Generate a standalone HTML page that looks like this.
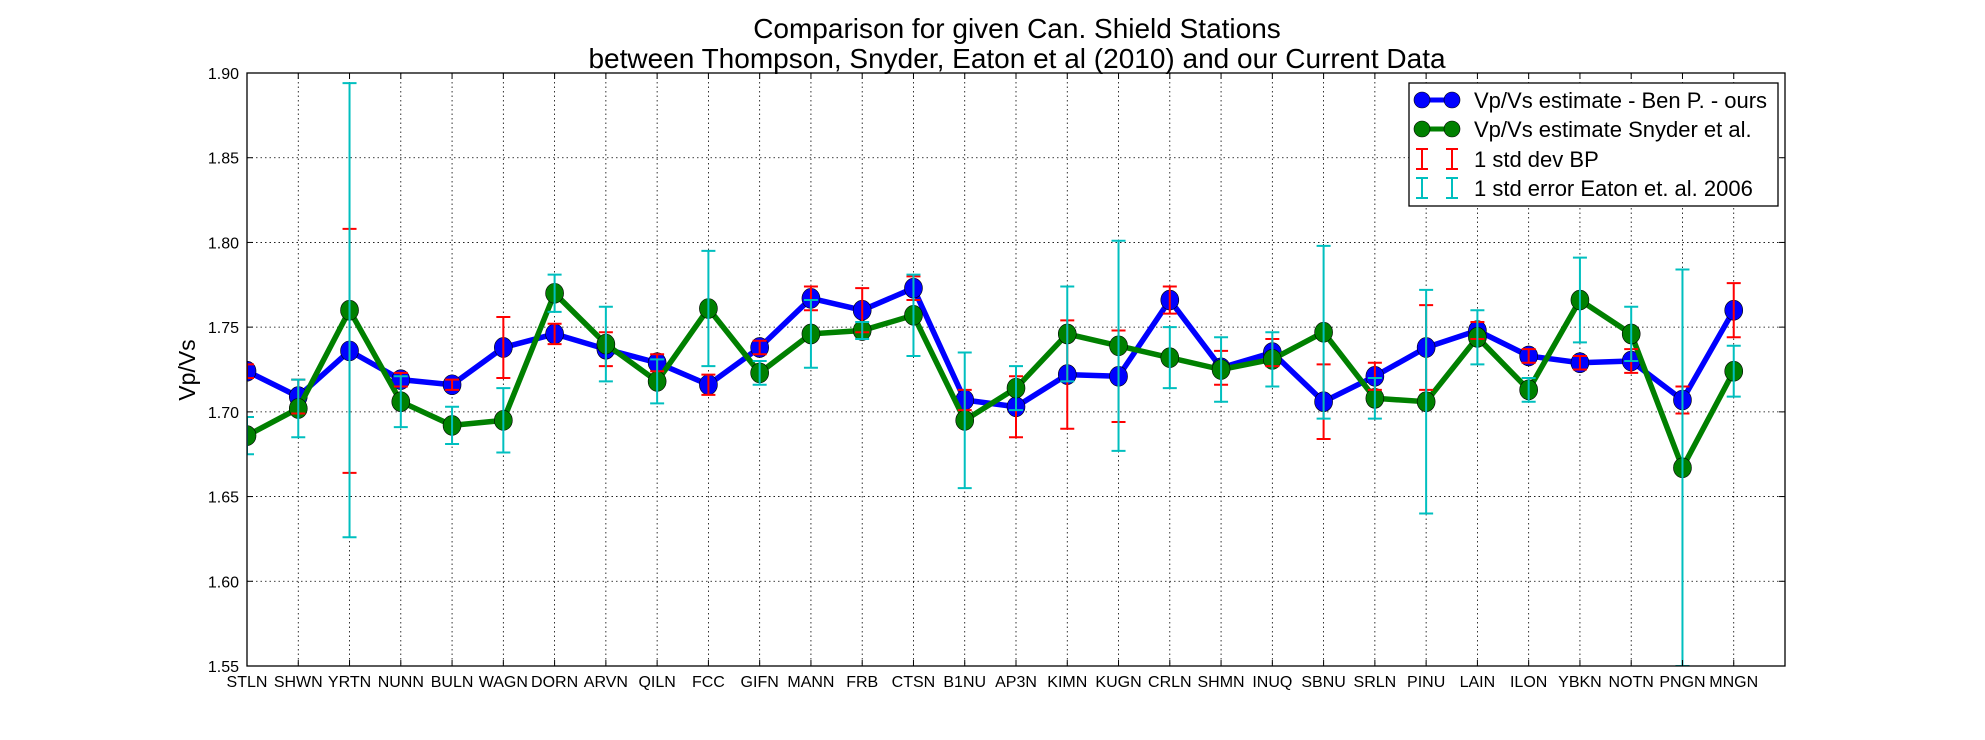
<!DOCTYPE html>
<html><head><meta charset="utf-8"><style>
body{margin:0;background:#fff;}
svg{display:block;font-family:"Liberation Sans","DejaVu Sans",sans-serif;}
</style></head><body>
<svg id="chart" width="1985" height="740" viewBox="0 0 1985 740" xmlns="http://www.w3.org/2000/svg">
<rect width="1985" height="740" fill="#fff"/>
<text x="1017" y="38" font-size="28" text-anchor="middle">Comparison for given Can. Shield Stations</text>
<text x="1017" y="68" font-size="28" text-anchor="middle">between Thompson, Snyder, Eaton et al (2010) and our Current Data</text>
<text transform="translate(195,370) rotate(-90)" font-size="23" text-anchor="middle">Vp/Vs</text>
<defs><clipPath id="plotclip"><rect x="247" y="73" width="1538" height="593"/></clipPath></defs>
<g id="grid"></g>
<g id="marks" clip-path="url(#plotclip)"></g>
<rect x="247" y="73" width="1538" height="593" fill="none" stroke="#000" stroke-width="1.3"/>
<g id="ticks"></g>
<g>
<rect x="1409" y="83" width="369" height="123" fill="#fff" stroke="#000" stroke-width="1.3"/>
<g>
<line x1="1422" y1="100" x2="1452" y2="100" stroke="#0000ff" stroke-width="5"/>
<circle cx="1422" cy="100" r="8" fill="#0000ff" stroke="#000" stroke-width="0.6"/><circle cx="1452" cy="100" r="8" fill="#0000ff" stroke="#000" stroke-width="0.6"/>
<text x="1474" y="108" font-size="22">Vp/Vs estimate - Ben P. - ours</text></g>
<g>
<line x1="1422" y1="129" x2="1452" y2="129" stroke="#008000" stroke-width="5"/>
<circle cx="1422" cy="129" r="8" fill="#008000" stroke="#000" stroke-width="0.6"/><circle cx="1452" cy="129" r="8" fill="#008000" stroke="#000" stroke-width="0.6"/>
<text x="1474" y="137" font-size="22">Vp/Vs estimate Snyder et al.</text></g>
<g stroke="#ff0000" stroke-width="2">
<path d="M1422 149V169M1416 149H1428M1416 169H1428M1452 149V169M1446 149H1458M1446 169H1458" fill="none"/>
<text x="1474" y="167" font-size="22" fill="#000" stroke="none">1 std dev BP</text></g>
<g stroke="#00bfbf" stroke-width="2">
<path d="M1422 178V198M1416 178H1428M1416 198H1428M1452 178V198M1446 178H1458M1446 198H1458" fill="none"/>
<text x="1474" y="196" font-size="22" fill="#000" stroke="none">1 std error Eaton et. al. 2006</text></g>
</g>
</svg>
<script>
const stations = ["STLN","SHWN","YRTN","NUNN","BULN","WAGN","DORN","ARVN","QILN","FCC","GIFN","MANN","FRB","CTSN","B1NU","AP3N","KIMN","KUGN","CRLN","SHMN","INUQ","SBNU","SRLN","PINU","LAIN","ILON","YBKN","NOTN","PNGN","MNGN"];
const oursValues = [1.724,1.709,1.736,1.719,1.716,1.738,1.746,1.737,1.729,1.716,1.738,1.767,1.760,1.773,1.707,1.703,1.722,1.721,1.766,1.726,1.735,1.706,1.721,1.738,1.748,1.733,1.729,1.730,1.707,1.760];
const oursStd = [0.004,0.010,0.072,0.004,0.003,0.018,0.006,0.010,0.005,0.006,0.004,0.007,0.013,0.007,0.006,0.018,0.032,0.027,0.008,0.010,0.008,0.022,0.008,0.025,0.005,0.004,0.004,0.007,0.008,0.016];
const snyderValues = [1.686,1.702,1.760,1.706,1.692,1.695,1.770,1.740,1.718,1.761,1.723,1.746,1.748,1.757,1.695,1.714,1.746,1.739,1.732,1.725,1.731,1.747,1.708,1.706,1.744,1.713,1.766,1.746,1.667,1.724];
const eatonErr = [0.011,0.017,0.134,0.015,0.011,0.019,0.011,0.022,0.013,0.034,0.007,0.020,0.005,0.024,0.040,0.013,0.028,0.062,0.018,0.019,0.016,0.051,0.012,0.066,0.016,0.007,0.025,0.016,0.117,0.015];
const yTicks = [1.55,1.60,1.65,1.70,1.75,1.80,1.85,1.90];

const L=247,R=1785,T=73,B=666,NS="http://www.w3.org/2000/svg";
const xs=i=>L+(R-L)*i/30;
const ys=v=>B-(B-T)*(v-1.55)/0.35;
function mk(tag,attrs,parent){const e=document.createElementNS(NS,tag);for(const k in attrs)e.setAttribute(k,attrs[k]);parent.appendChild(e);return e;}
const grid=document.getElementById('grid'),marks=document.getElementById('marks'),ticks=document.getElementById('ticks');
yTicks.forEach(v=>{
  const y=ys(v);
  if(v>1.55&&v<1.90){const g=mk('line',{x1:L,x2:R,y1:y,y2:y,stroke:'#000','stroke-width':0.8,'stroke-dasharray':'1.5,3'},grid);
  
  }
  mk('line',{x1:L,x2:L+6,y1:y,y2:y,stroke:'#000'},ticks);
  mk('line',{x1:R-6,x2:R,y1:y,y2:y,stroke:'#000'},ticks);
  const t=mk('text',{x:L-8,y:y+6,'font-size':16,'text-anchor':'end'},ticks);t.textContent=v.toFixed(2);
  
  
});
stations.forEach((s,i)=>{
  const x=xs(i);
  const g=mk('line',{x1:x,x2:x,y1:T,y2:B,stroke:'#000','stroke-width':0.8,'stroke-dasharray':'1.5,3'},grid);
  
  
  mk('line',{x1:x,x2:x,y1:B,y2:B-6,stroke:'#000'},ticks);
  mk('line',{x1:x,x2:x,y1:T,y2:T+6,stroke:'#000'},ticks);
  const t=mk('text',{x:x,y:B+21,'font-size':16,'text-anchor':'middle'},ticks);t.textContent=s;
  
  
});
function series(vals,color,name){
  const p=mk('polyline',{points:vals.map((v,i)=>xs(i)+','+ys(v)).join(' '),fill:'none',stroke:color,'stroke-width':5.5,'stroke-linejoin':'round'},marks);
  
  
  vals.forEach((v,i)=>{const c=mk('ellipse',{cx:xs(i),cy:ys(v),rx:9,ry:10,fill:color,stroke:'#000','stroke-width':0.6},marks);
    
    });
}
function errs(vals,e,color,name){
  vals.forEach((v,i)=>{const x=xs(i),y1=ys(v+e[i]),y2=ys(v-e[i]);
    const p=mk('path',{d:`M${x} ${y1}V${y2}M${x-7} ${y1}H${x+7}M${x-7} ${y2}H${x+7}`,stroke:color,'stroke-width':2,fill:'none'},marks);
    
    });
}
series(oursValues,'#0000ff','ours');
series(snyderValues,'#008000','snyder');
errs(oursValues,oursStd,'#ff0000','std-dev-errorbar');
errs(snyderValues,eatonErr,'#00bfbf','std-error-errorbar');
</script>
</body></html>
